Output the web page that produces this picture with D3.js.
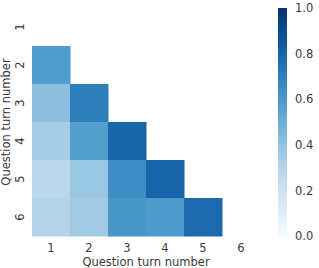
<!DOCTYPE html>
<html>
<head>
<meta charset="utf-8">
<script src="https://cdn.jsdelivr.net/npm/d3@7"></script>
<style>
  body { margin: 0; background: #fff; }
  text { font-family: "DejaVu Sans", sans-serif; fill: #3a3a3a; }
</style>
</head>
<body>
<svg id="chart" width="319" height="268"></svg>
<script>
var turns = [1, 2, 3, 4, 5, 6];
// lower triangle, row = question turn, col = earlier turn
var rows = [2, 3, 3, 4, 4, 4, 5, 5, 5, 5, 6, 6, 6, 6, 6];
var cols = [1, 1, 2, 1, 2, 3, 1, 2, 3, 4, 1, 2, 3, 4, 5];
var values = [0.58, 0.42, 0.70, 0.35, 0.57, 0.80, 0.28, 0.38, 0.64, 0.80, 0.30, 0.36, 0.61, 0.59, 0.78];
var cbTicks = [0, 0.2, 0.4, 0.6, 0.8, 1.0];

var width = 319, height = 268;
var svg = d3.select("#chart");

var x = d3.scaleBand().domain(turns).range([32, 260]);
var y = d3.scaleBand().domain(turns).range([8, 236]);
var color = d3.scaleSequential(d3.interpolateBlues).domain([0, 1]);

var cells = rows.map(function(r, i) { return {row: r, col: cols[i], v: values[i]}; });

svg.selectAll(".cell")
    .data(cells)
    .enter()
    .append("rect")
    .attr("class", "cell")
    .attr("x", function(d) { return x(d.col); })
    .attr("y", function(d) { return y(d.row); })
    .attr("width", x.bandwidth() + 0.5)
    .attr("height", y.bandwidth() + 0.5)
    .style("fill", function(d) { return color(d.v); });

// x tick labels
svg.selectAll(".xtick")
    .data(turns)
    .enter()
    .append("text")
    .attr("x", function(d) { return x(d) + x.bandwidth() / 2; })
    .attr("y", 252)
    .attr("text-anchor", "middle")
    .style("font-size", "11.5px")
    .text(function(d) { return d; });

svg.append("text")
    .attr("x", 146)
    .attr("y", 266)
    .attr("text-anchor", "middle")
    .style("font-size", "11.5px")
    .text("Question turn number");

// y tick labels, rotated
svg.selectAll(".ytick")
    .data(turns)
    .enter()
    .append("text")
    .attr("transform", function(d) { return "translate(24," + (y(d) + y.bandwidth() / 2) + ") rotate(-90)"; })
    .attr("text-anchor", "middle")
    .style("font-size", "11.5px")
    .text(function(d) { return d; });

svg.append("text")
    .attr("transform", "translate(10,122) rotate(-90)")
    .attr("text-anchor", "middle")
    .style("font-size", "11.5px")
    .text("Question turn number");

// colorbar
var cbX = 278, cbW = 9;
var cbScale = d3.scaleLinear().domain([0, 1]).range([236, 8]);
var defs = svg.append("defs");
var grad = defs.append("linearGradient")
    .attr("id", "cbgrad")
    .attr("x1", "0%").attr("y1", "100%")
    .attr("x2", "0%").attr("y2", "0%");
d3.range(0, 1.01, 0.1).forEach(function(t) {
    grad.append("stop").attr("offset", (t * 100) + "%").attr("stop-color", color(t));
});
svg.append("rect")
    .attr("x", cbX)
    .attr("y", cbScale(1))
    .attr("width", cbW)
    .attr("height", cbScale(0) - cbScale(1))
    .style("fill", "url(#cbgrad)");

var cbAxis = d3.axisRight(cbScale).tickValues(cbTicks).tickFormat(d3.format(".1f")).tickSize(0).tickPadding(8);
var cbG = svg.append("g")
    .attr("transform", "translate(" + (cbX + cbW) + ",0)")
    .call(cbAxis);
cbG.select(".domain").remove();
cbG.selectAll("text")
    .style("font-size", "11.5px")
    .style("font-family", "DejaVu Sans, sans-serif")
    .attr("fill", "#3a3a3a");
</script>
</body>
</html>
